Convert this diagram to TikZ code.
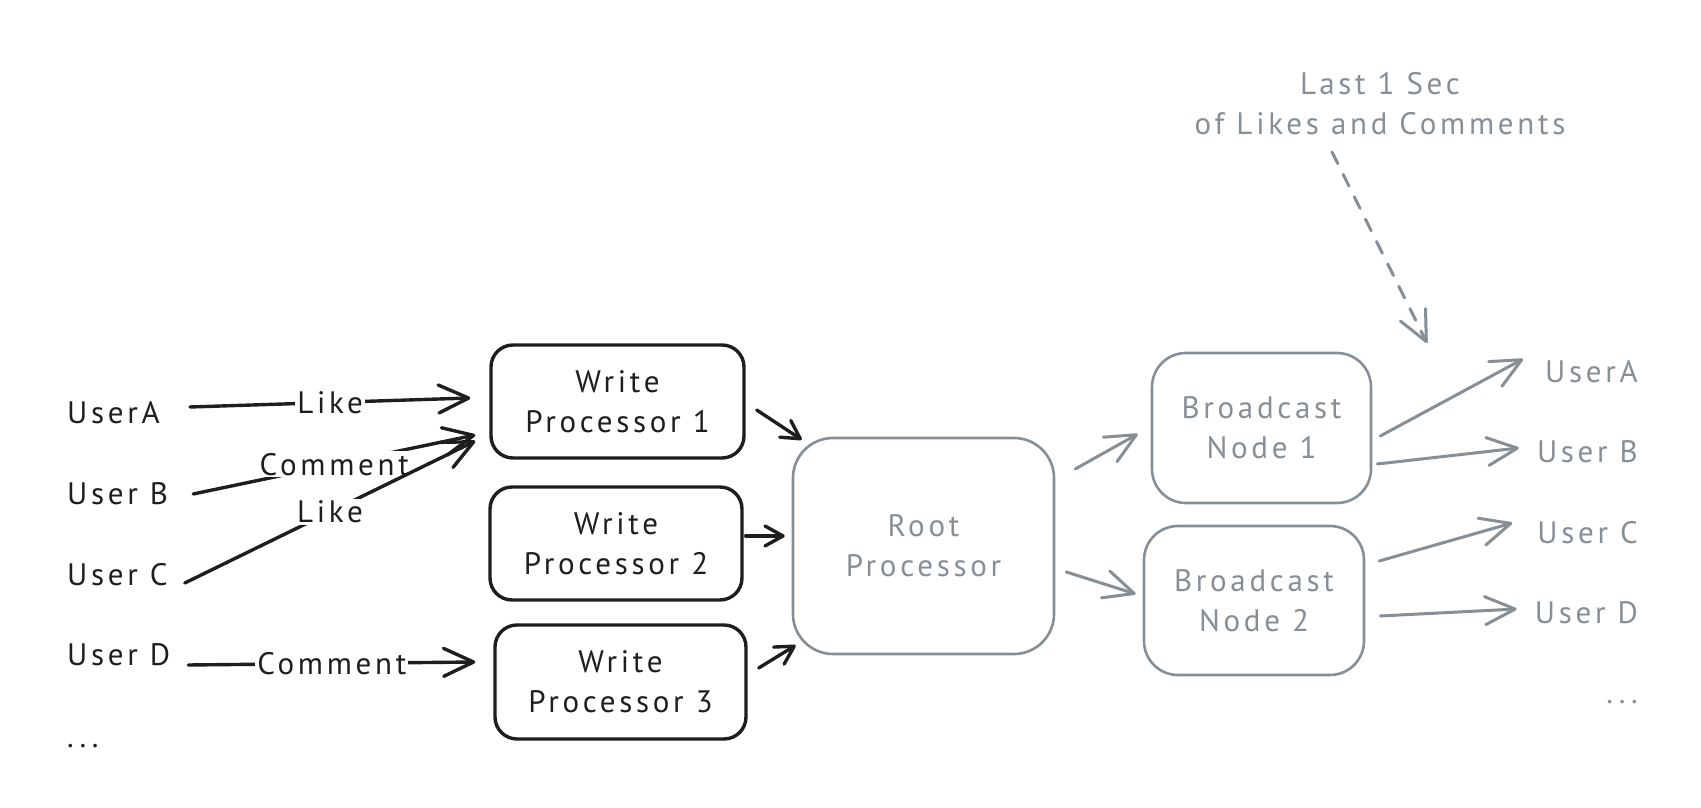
\documentclass[tikz,border=0pt]{standalone}
\usepackage{fontspec}
\setmainfont{PT Sans}[LetterSpace=12]
\usetikzlibrary{arrows.meta}
\definecolor{ink}{HTML}{1E1E1E}
\definecolor{slate}{HTML}{868E96}
\begin{document}
\begin{tikzpicture}[x=1pt,y=1pt,
  every node/.style={font=\fontsize{31}{40}\selectfont},
  word/.style={inner sep=0pt, text height=22pt, text depth=0pt},
  inkword/.style={word, text=ink},
  slateword/.style={word, text=slate},
  inkbox/.style={draw=ink, line width=3.4pt, text=ink, align=center, inner sep=0pt, rounded corners=22pt},
  slatebox/.style={draw=slate, line width=2.6pt, text=slate, align=center, inner sep=0pt},
  lbl/.style={fill=white, inner sep=2pt, text=ink, text height=22pt, text depth=0pt},
  bighead/.style={-{Straight Barb[length=30pt,width=28pt,round]}},
  smallhead/.style={-{Straight Barb[length=18pt,width=20pt,round]}},
  inkarrow/.style={draw=ink, line width=3.4pt, line cap=round},
  slatearrow/.style={draw=slate, line width=3pt, line cap=round},
]
\useasboundingbox (0,0) rectangle (1701,808);

% senders on the left
\node[inkword, anchor=west] (uA) at (67,395) {UserA};
\node[inkword, anchor=west] (uB) at (67,314) {User B};
\node[inkword, anchor=west] (uC) at (67,233) {User C};
\node[inkword, anchor=west] (uD) at (67,153) {User D};
\node[text=ink, inner sep=0pt, anchor=base west] (uMore) at (67,60) {...};

% write processors
\node[inkbox, minimum width=253pt, minimum height=113pt] (wp1) at (617.5,406.5) {Write\\Processor 1};
\node[inkbox, minimum width=252pt, minimum height=113pt] (wp2) at (616,264.5) {Write\\Processor 2};
\node[inkbox, minimum width=251pt, minimum height=114pt] (wp3) at (620.5,126) {Write\\Processor 3};

% aggregation and fan-out
\node[slatebox, rounded corners=40pt, minimum width=261pt, minimum height=216pt] (root) at (923.5,262) {Root\\Processor};
\node[slatebox, rounded corners=34pt, minimum width=219pt, minimum height=150pt] (bn1) at (1261.5,380) {Broadcast\\Node 1};
\node[slatebox, rounded corners=34pt, minimum width=220pt, minimum height=149pt] (bn2) at (1254,207.5) {Broadcast\\Node 2};

% receivers on the right
\node[slateword, anchor=east] (rA) at (1638,436) {UserA};
\node[slateword, anchor=east] (rB) at (1638,356) {User B};
\node[slateword, anchor=east] (rC) at (1638,275) {User C};
\node[slateword, anchor=east] (rD) at (1638,195) {User D};
\node[text=slate, inner sep=0pt, anchor=base east] (rMore) at (1638,104) {...};

% annotation
\node[text=slate, align=center, inner sep=0pt] (note) at (1380,704) {Last 1 Sec\\of Likes and Comments};
\coordinate (hint) at (1427,465);

% incoming events
\draw[inkarrow, bighead] ([shift={(30,6)}]uA.east) -- node[lbl]{Like} ([shift={(-19,3.5)}]wp1.west);
\draw[inkarrow, bighead] ([shift={(25,0)}]uB.east) -- node[lbl]{Comment} ([shift={(-14,-33.5)}]wp1.west);
\draw[inkarrow, bighead] ([shift={(17,-8)}]uC.east) -- node[lbl]{Like} ([shift={(-14,-39.5)}]wp1.west);
\draw[inkarrow, bighead] ([shift={(18,-10)}]uD.east) -- node[lbl]{Comment} ([shift={(-18,20)}]wp3.west);

% processors to root
\draw[inkarrow, smallhead] ([shift={(11,-8.5)}]wp1.east) -- ([shift={(10,-3)}]root.north west);
\draw[inkarrow, smallhead] ([shift={(2,7.5)}]wp2.east) -- ([shift={(-7,10)}]root.west);
\draw[inkarrow, smallhead] ([shift={(11,14)}]wp3.east) -- ([shift={(4,10)}]root.south west);

% root to broadcast nodes
\draw[slatearrow, bighead] ([shift={(20,77)}]root.east) -- ([shift={(-13,-6)}]bn1.west);
\draw[slatearrow, bighead] ([shift={(11,-26)}]root.east) -- ([shift={(-7,6.5)}]bn2.west);

% broadcast nodes to receivers
\draw[slatearrow, bighead] ([shift={(8,-8)}]bn1.east) -- ([shift={(-22,13)}]rA.west);
\draw[slatearrow, bighead] ([shift={(5,-36)}]bn1.east) -- ([shift={(-18,4)}]rB.west);
\draw[slatearrow, bighead] ([shift={(14,39.5)}]bn2.east) -- ([shift={(-25,10)}]rC.west);
\draw[slatearrow, bighead] ([shift={(15,-15.5)}]bn2.east) -- ([shift={(-18,4)}]rD.west);

% annotation pointer
\draw[slatearrow, bighead, dash pattern=on 13pt off 12pt] ([shift={(-48,-48)}]note.center) -- (hint);
\end{tikzpicture}
\end{document}
